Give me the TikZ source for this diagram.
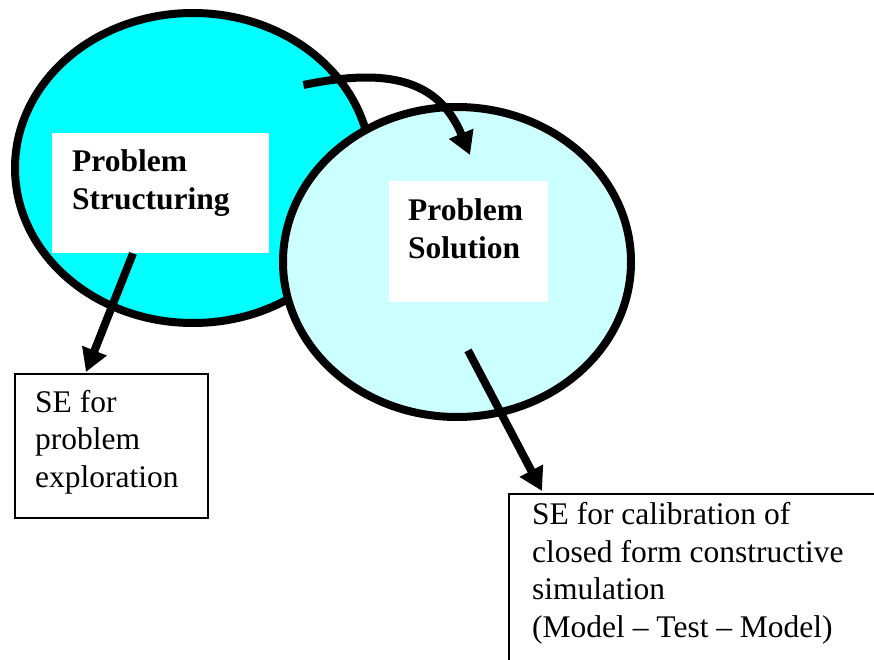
\documentclass[tikz,border=0pt]{standalone}
\usepackage{fontspec}
\setmainfont{Liberation Serif}
\usetikzlibrary{shapes.geometric,arrows.meta,calc}

\definecolor{structfill}{RGB}{0,255,255}
\definecolor{solfill}{RGB}{204,255,255}

\tikzset{
  phase/.style={ellipse, draw=black, line width=8pt, inner sep=0pt},
  labelpad/.style={rectangle, fill=white, draw=none, inner sep=0pt, anchor=north west},
  headtext/.style={anchor=base west, align=left, inner sep=0pt,
    font=\fontsize{31.5}{38}\selectfont\bfseries},
  outbox/.style={rectangle, draw=black, line width=1.8pt, fill=white, inner sep=0pt, anchor=north west},
  outtext/.style={anchor=base west, align=left, inner sep=0pt,
    font=\fontsize{31.5}{37.5}\selectfont},
  flow/.style={line width=8pt, -{Triangle[length=23pt,width=25pt]}}
}

\begin{document}
\begin{tikzpicture}[x=1pt,y=-1pt]
  \path[use as bounding box, clip] (0,0) rectangle (874,660);

  % the two overlapping phases
  \node[phase, fill=structfill, minimum width=356pt, minimum height=310pt] (structuring) at (193,168) {};
  \node[labelpad, minimum width=217pt, minimum height=120pt] (psbox) at (52,133) {};
  \node[phase, fill=solfill, minimum width=348pt, minimum height=310pt] (solution) at (457,262) {};
  \node[labelpad, minimum width=159pt, minimum height=121pt] (solbox) at (389,181) {};

  % multi-line labels are placed by the baseline of their last line
  \node[headtext] (pstext) at ($(psbox.north west)+(20,77)$) {Problem\\Structuring};
  \node[headtext] (soltext) at ($(solbox.north west)+(19,77)$) {Problem\\Solution};

  % outcome boxes
  \node[outbox, minimum width=193pt, minimum height=144pt] (sebox) at (14,373) {};
  \node[outtext] (setext) at ($(sebox.north west)+(21,114)$) {SE for\\problem\\exploration};

  \node[outbox, minimum width=400pt, minimum height=200pt] (calbox) at (508,493) {};
  \node[outtext] (caltext) at ($(calbox.north west)+(24,144)$)
    {SE for calibration of\\closed form constructive\\simulation\\(Model -- Test -- Model)};

  % connectors
  \coordinate (curvestart) at ($(psbox.north east)+(34,-48)$);
  \coordinate (curveend) at ($(solbox.north west)+(81,-26)$);
  \draw[flow] (curvestart) .. controls (385,68) and (438,78) .. (curveend);

  \draw[flow] ($(psbox.south west)+(81,0)$) -- ($(sebox.north west)+(72,-1)$);
  \draw[flow] ($(solbox.south west)+(79,48)$) -- ($(calbox.north west)+(34,-2)$);
\end{tikzpicture}
\end{document}
